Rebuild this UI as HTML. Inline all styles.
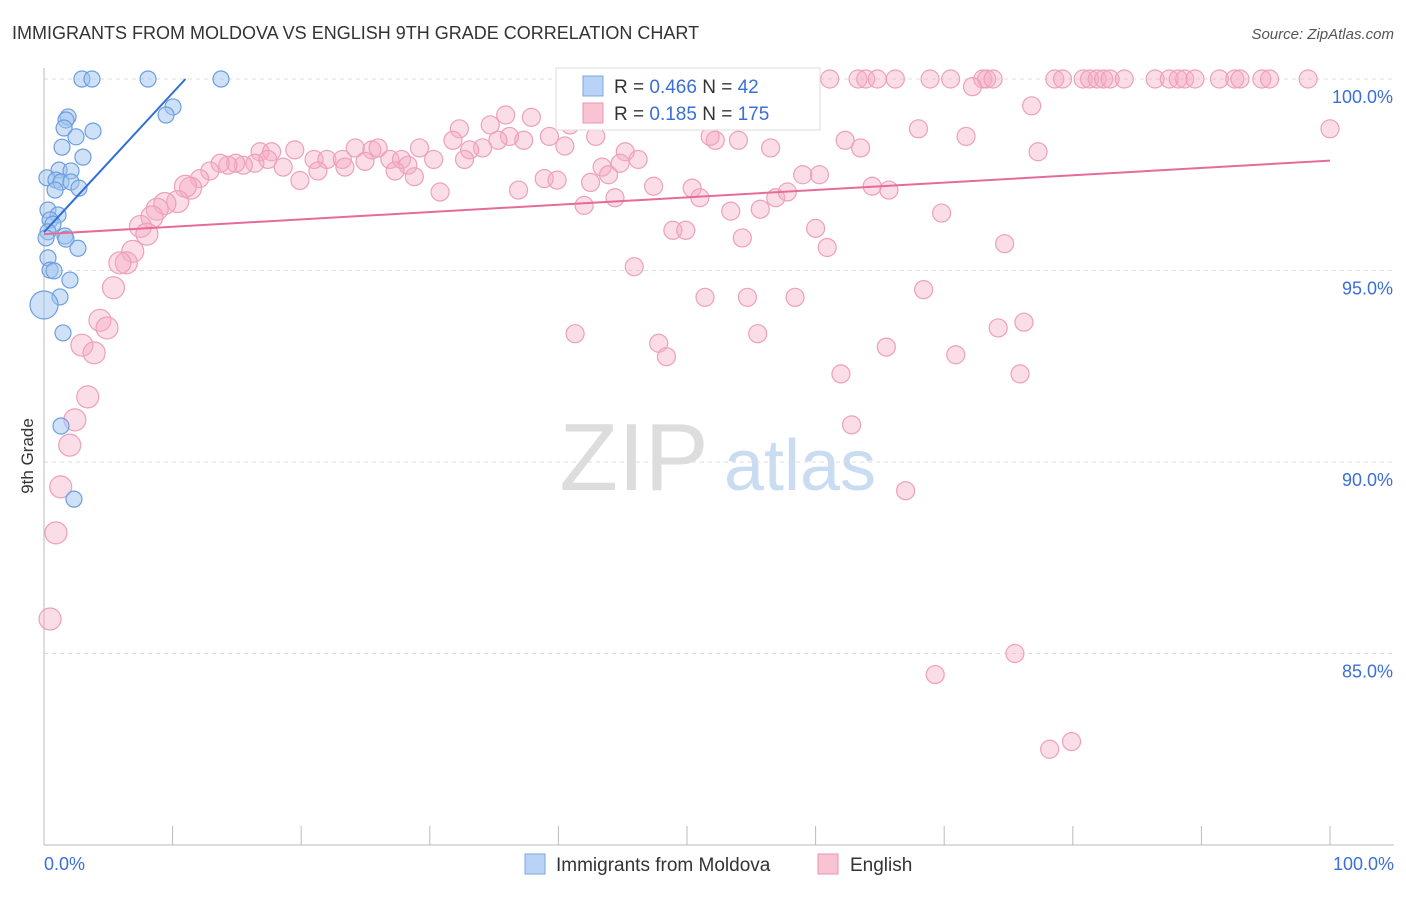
<!DOCTYPE html>
<html><head><meta charset="utf-8"><style>
body{margin:0;background:#fff;font-family:"Liberation Sans",sans-serif;}
svg text{font-family:"Liberation Sans",sans-serif;}
</style></head><body>
<svg id="chart" width="1406" height="892" xmlns="http://www.w3.org/2000/svg">
<text x="12" y="39" font-size="18" fill="#333">IMMIGRANTS FROM MOLDOVA VS ENGLISH 9TH GRADE CORRELATION CHART</text>
<text x="1394" y="39" font-size="15" fill="#555" text-anchor="end" font-style="italic">Source: ZipAtlas.com</text>
<text transform="translate(33,456) rotate(-90)" font-size="17" fill="#333" text-anchor="middle">9th Grade</text>
<g><text x="634" y="490" font-size="96" fill="#ddd" text-anchor="middle" font-family="Liberation Serif">ZIP</text><text x="800" y="490" font-size="72" fill="#c9dcf2" text-anchor="middle">atlas</text></g>
<g id="grid"></g><g id="axes"></g><g id="pts"></g><g id="lines"></g>
<g>
<rect x="556" y="68" width="264" height="62" fill="#fff" stroke="#ddd"/>
<rect x="583" y="76" width="20" height="20" fill="#b8d3f5" stroke="#7aa8e0"/>
<text x="614" y="93" font-size="19" fill="#333">R = <tspan fill="#3a6fd8">0.466</tspan>   N =  <tspan fill="#3a6fd8">42</tspan></text>
<rect x="583" y="103" width="20" height="20" fill="#f8c3d3" stroke="#e996b2"/>
<text x="614" y="120" font-size="19" fill="#333">R =  <tspan fill="#3a6fd8">0.185</tspan>   N = <tspan fill="#3a6fd8">175</tspan></text>
</g>
<g>
<rect x="525" y="854" width="20" height="20" fill="#b8d3f5" stroke="#7aa8e0"/>
<text x="556" y="871" font-size="19" fill="#333">Immigrants from Moldova</text>
<rect x="818" y="854" width="20" height="20" fill="#f8c3d3" stroke="#e996b2"/>
<text x="850" y="871" font-size="19" fill="#333">English</text>
</g>
</svg>
<script>
const yTicks=[100,95,90,85];
const yTickLabels=["100.0%","95.0%","90.0%","85.0%"];
const xTicks=[0,10,20,30,40,50,60,70,80,90,100];
const blueX=[2.95,3.73,8.09,13.76,10.03,9.49,1.87,1.71,1.56,3.81,2.49,1.40,3.03,1.17,2.10,0.23,0.93,1.32,2.10,2.72,0.86,0.31,1.09,0.47,0.70,0.31,1.63,1.71,2.64,0.31,0.47,0.78,2.02,1.24,0,1.48,1.32,2.33,0.16];
const blueY=[100,100,100,100,99.27,99.06,99.01,98.93,98.72,98.64,98.49,98.22,97.96,97.62,97.60,97.42,97.36,97.31,97.31,97.15,97.10,96.58,96.45,96.32,96.21,96.01,95.90,95.82,95.58,95.33,95.01,94.99,94.75,94.31,94.10,93.37,90.94,89.03,95.85];
const pinkX=[61.1,63.3,63.9,64.8,66.2,68.9,70.5,73.0,73.3,73.8,78.6,79.2,80.8,81.3,81.9,82.4,82.9,84.0,86.4,87.5,88.2,88.7,89.5,91.4,92.6,93.0,94.7,95.3,98.3,
59.3,72.2,76.8,100,68.0,71.7,77.3,62.3,63.5,56.5,54.0,52.2,51.8,42.9,40.9,35.9,37.9,34.7,32.3,39.3,37.3,36.2,35.3,34.1,33.1,31.8,29.2,30.3,32.7,40.5,45.2,46.2,44.8,43.4,43.9,42.5,38.9,39.9,36.9,30.8,47.4,50.4,51.0,53.4,55.7,56.9,57.8,59.0,60.3,64.4,65.7,42.0,44.4,60.0,60.9,69.8,74.7,48.9,49.9,54.3,45.9,51.4,54.7,58.4,68.4,41.3,47.8,48.4,55.5,65.5,70.9,74.2,76.2,75.9,61.97,62.8,67.0,75.5,69.3,78.2,79.9,
16.8,17.7,19.5,21.0,22.0,23.2,24.2,25.5,25.98,26.9,27.8,28.3,28.8,27.3,24.96,23.4,21.3,19.9,18.6,17.4,16.4,15.5,14.9,14.3,13.7,12.9,12.1,11.4,11.0,10.4,9.4,8.8,8.4,7.5,8.0,6.9,6.4,5.9,5.4,4.35,4.9,2.95,3.9,3.4,2.4,2.0,1.3,0.93,0.47];
const pinkY=[100,100,100,100,100,100,100,100,100,100,100,100,100,100,100,100,100,100,100,100,100,100,100,100,100,100,100,100,100,
99.77,99.8,99.3,98.7,98.7,98.5,98.1,98.4,98.2,98.2,98.4,98.4,98.5,98.5,98.8,99.06,99.0,98.8,98.7,98.5,98.4,98.5,98.4,98.2,98.15,98.4,98.2,97.9,97.9,98.25,98.1,97.9,97.8,97.7,97.5,97.3,97.4,97.36,97.1,97.05,97.2,97.15,96.9,96.55,96.6,96.9,97.05,97.5,97.5,97.2,97.1,96.7,96.9,96.1,95.6,96.5,95.7,96.05,96.05,95.85,95.1,94.3,94.3,94.3,94.5,93.35,93.1,92.75,93.35,93.0,92.8,93.5,93.65,92.3,92.3,90.97,89.25,85.0,84.45,82.5,82.7,
98.1,98.1,98.15,97.9,97.9,97.9,98.2,98.15,98.2,97.9,97.9,97.75,97.45,97.6,97.85,97.7,97.6,97.35,97.7,97.9,97.8,97.75,97.8,97.75,97.8,97.6,97.4,97.15,97.2,96.8,96.75,96.6,96.4,96.15,95.95,95.5,95.2,95.2,94.55,93.7,93.5,93.05,92.85,91.7,91.1,90.44,89.35,88.15,85.9];
const blueTrend=[0,96.0,11,100];
const pinkTrend=[0,95.95,100,97.87];
const X=v=>44+v*12.86, Y=v=>79+(100-v)*38.3;
const NS="http://www.w3.org/2000/svg";
function mk(t,a,p){const e=document.createElementNS(NS,t);for(const k in a)e.setAttribute(k,a[k]);p.appendChild(e);return e;}
const grid=document.getElementById('grid'),axes=document.getElementById('axes'),pts=document.getElementById('pts'),lines=document.getElementById('lines');
yTicks.forEach((v,i)=>{
 const l=mk('line',{x1:44,x2:1394,y1:Y(v),y2:Y(v),stroke:'#ddd','stroke-dasharray':'4,4'},grid);
 
 
 const t=mk('text',{x:1393,y:Y(v)+24,'font-size':18,fill:'#3a6fd8','text-anchor':'end'},axes);
 t.textContent=yTickLabels[i];
 
 
});
const ax=mk('line',{x1:44,x2:44,y1:68,y2:845,stroke:'#bbb'},axes);


const bx=mk('line',{x1:44,x2:1394,y1:845,y2:845,stroke:'#bbb'},axes);


xTicks.forEach(v=>{const t=mk('line',{x1:X(v),x2:X(v),y1:826,y2:845,stroke:'#bbb'},axes);
 
 });
[[0,'0.0%','start',44],[100,'100.0%','end',1394]].forEach(d=>{const t=mk('text',{x:d[3],y:870,'font-size':18,fill:'#3a6fd8','text-anchor':d[2]},axes);t.textContent=d[1];
 
 });
pinkX.forEach((x,i)=>{const c=mk('circle',{cx:X(x),cy:Y(pinkY[i]),r:x<12?11:9,fill:'rgba(246,170,195,0.4)',stroke:'#eda0b9','stroke-width':1.2},pts);
 
 });
blueX.forEach((x,i)=>{const c=mk('circle',{cx:X(x),cy:Y(blueY[i]),r:(x===0?14:8),fill:'rgba(160,196,240,0.5)',stroke:'#6d9ee0','stroke-width':1.2},pts);
 
 });
const bl=mk('line',{x1:X(blueTrend[0]),y1:Y(blueTrend[1]),x2:X(blueTrend[2]),y2:Y(blueTrend[3]),stroke:'#2f6fd6','stroke-width':2},lines);


const pl=mk('line',{x1:X(pinkTrend[0]),y1:Y(pinkTrend[1]),x2:X(pinkTrend[2]),y2:Y(pinkTrend[3]),stroke:'#e76b98','stroke-width':2},lines);


</script>
</body></html>
